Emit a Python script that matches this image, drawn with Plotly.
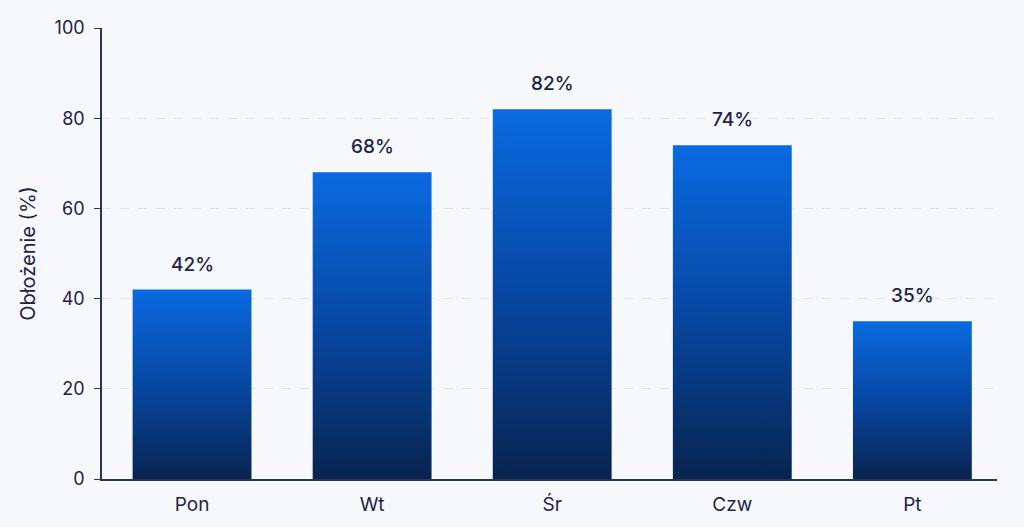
import plotly.graph_objects as go

categories = ["Pon", "Wt", "Śr", "Czw", "Pt"]
values = [42, 68, 82, 74, 35]
labels = [f"{v}%" for v in values]
y_ticks = [0, 20, 40, 60, 80, 100]

BAR_W = 0.66
TEXT = "#1b2547"
AXIS = "#2a3358"
BG = "#f7f8fc"

fig = go.Figure()
for i, v in enumerate(values):
    x0, x1 = i - BAR_W / 2, i + BAR_W / 2
    fig.add_trace(go.Scatter(
        x=[x0, x0, x1, x1, x0], y=[0, v, v, 0, 0],
        mode="lines", fill="toself", line=dict(width=0, color="rgba(0,0,0,0)"),
        fillgradient=dict(type="vertical",
                          colorscale=[[0, "#08244f"], [0.5, "#0747a3"], [1, "#0a6ae0"]]),
        hoverinfo="skip", showlegend=False,
    ))

for i, (v, lab) in enumerate(zip(values, labels)):
    fig.add_annotation(
        x=i, y=v, text=lab, showarrow=False, yanchor="bottom", yshift=12,
        font=dict(family="Inter", size=19, color=TEXT, weight=500),
    )

fig.update_layout(
    width=1024, height=527,
    margin=dict(l=102, r=27, t=28, b=48),
    paper_bgcolor=BG, plot_bgcolor=BG,
    font=dict(family="Inter", color=TEXT, size=18),
    xaxis=dict(
        range=[-0.5, len(categories) - 0.53],
        tickvals=list(range(len(categories))), ticktext=categories,
        showgrid=False, zeroline=False,
        showline=True, linecolor=AXIS, linewidth=1.5,
        ticks="", tickfont=dict(size=19, color=TEXT), ticklabelstandoff=7,
    ),
    yaxis=dict(
        range=[0, 100], tickvals=y_ticks,
        showgrid=True, gridcolor="#e1e4ea", griddash="dash", gridwidth=1,
        zeroline=False,
        showline=True, linecolor=AXIS, linewidth=1.5,
        ticks="outside", ticklen=6, tickcolor=AXIS,
        tickfont=dict(size=18, color=TEXT), ticklabelstandoff=6,
        title=dict(text="Obłożenie (%)", font=dict(size=20, color=TEXT), standoff=14),
    ),
)

fig.write_html("out.html")
